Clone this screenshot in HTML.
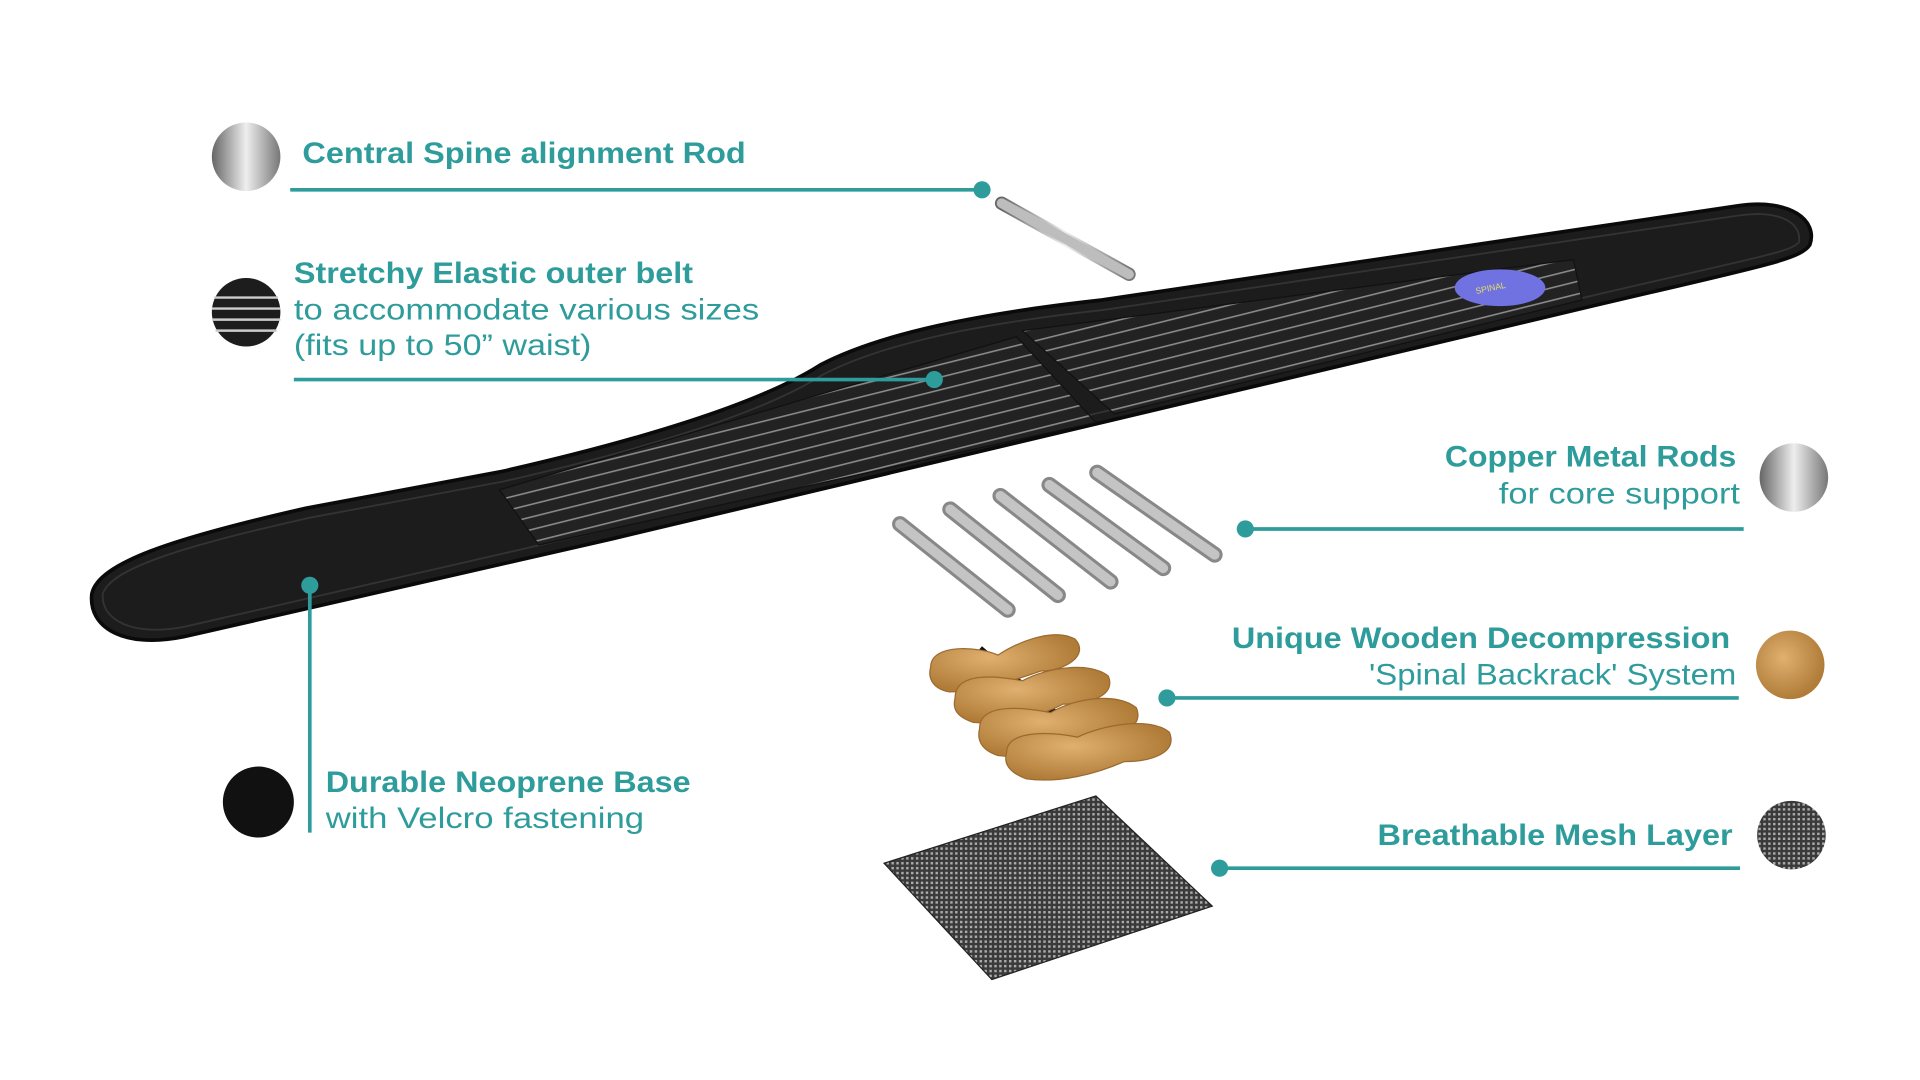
<!DOCTYPE html>
<html><head><meta charset="utf-8"><style>
html,body{margin:0;padding:0;background:#fff;}
svg{display:block}
.t{font-family:"Liberation Sans",sans-serif;fill:#2f9c9c;}
.b{font-weight:bold;font-size:24px;}
.r{font-size:24px;}
</style></head><body>
<svg width="1920" height="1080" viewBox="0 0 1568 882" preserveAspectRatio="none" xmlns="http://www.w3.org/2000/svg">
<defs>
<linearGradient id="metal2" x1="0" x2="1"><stop offset="0" stop-color="#666"/><stop offset="0.5" stop-color="#eee"/><stop offset="1" stop-color="#777"/></linearGradient>
<radialGradient id="wood" cx="40%" cy="40%" r="60%"><stop offset="0" stop-color="#e0b070"/><stop offset="1" stop-color="#b07c38"/></radialGradient>
<pattern id="mesh" width="4" height="4" patternUnits="userSpaceOnUse"><rect width="4" height="4" fill="#3a3a3a"/><rect width="2" height="2" fill="#aaa"/></pattern>
<pattern id="stripes" width="8" height="10" patternUnits="userSpaceOnUse" patternTransform="rotate(-14)"><rect width="8" height="10" fill="#222"/><rect y="4" width="8" height="1.3" fill="#8a8a8a"/></pattern>
</defs>

<path d="M75,485 C80,460 140,440 250,415 L410,385 C520,360 620,330 670,298 C720,272 800,256 900,245 L1420,168 C1462,162 1485,180 1478,200 C1470,212 1440,217 1300,250 L900,345 L500,440 L150,520 C100,530 72,512 75,485 Z" fill="#1c1c1c" stroke="#0a0a0a" stroke-width="3"/>
<path d="M84,485 C90,465 145,447 252,423 L412,393 C522,368 622,338 672,306 C722,280 802,264 902,253 L1420,176 C1455,171 1472,183 1469,198 C1462,206 1435,210 1298,242 L898,337 L498,432 L150,512 C108,520 82,506 84,485 Z" fill="none" stroke="#333" stroke-width="1.5"/>
<polygon points="408,400 660,325 830,275 895,345 440,445" fill="url(#stripes)" stroke="#111"/>
<polygon points="835,270 1285,212 1292,245 910,338" fill="url(#stripes)" stroke="#111"/>
<ellipse cx="1225" cy="235" rx="37" ry="15" fill="#6f72e0"/>
<text x="1205" y="236" font-family="Liberation Sans,sans-serif" font-size="7" fill="#e0e060" transform="rotate(-12 1225 235)">SPINAL</text>

<line x1="818" y1="166" x2="922" y2="224" stroke="url(#metal2)" stroke-width="11" stroke-linecap="round"/>
<line x1="818" y1="166" x2="922" y2="224" stroke="#bdbdbd" stroke-width="8" stroke-linecap="round"/>

<g stroke-linecap="round">
<line x1="735" y1="428" x2="823" y2="498" stroke="#888" stroke-width="13"/>
<line x1="735" y1="428" x2="823" y2="498" stroke="#c4c4c4" stroke-width="8"/>
<line x1="776" y1="416" x2="864" y2="486" stroke="#888" stroke-width="13"/>
<line x1="776" y1="416" x2="864" y2="486" stroke="#c4c4c4" stroke-width="8"/>
<line x1="817" y1="405" x2="907" y2="475" stroke="#888" stroke-width="13"/>
<line x1="817" y1="405" x2="907" y2="475" stroke="#c4c4c4" stroke-width="8"/>
<line x1="857" y1="396" x2="950" y2="464" stroke="#888" stroke-width="13"/>
<line x1="857" y1="396" x2="950" y2="464" stroke="#c4c4c4" stroke-width="8"/>
<line x1="896" y1="386" x2="992" y2="453" stroke="#888" stroke-width="13"/>
<line x1="896" y1="386" x2="992" y2="453" stroke="#c4c4c4" stroke-width="8"/>
</g>

<g fill="url(#wood)" stroke="#9a6a30" stroke-width="1">
<line x1="800" y1="530" x2="905" y2="620" stroke="#111" stroke-width="6"/>
<path d="M760,545 C760,525 800,528 815,535 C830,525 860,512 878,522 C890,535 870,548 850,548 C830,555 800,565 775,565 C760,562 758,552 760,545Z"/>
<path d="M780,570 C780,548 815,552 835,556 C855,545 890,540 905,552 C912,568 890,575 868,575 C850,585 820,592 795,590 C780,585 778,578 780,570Z"/>
<path d="M800,595 C800,573 838,578 858,582 C878,570 912,565 928,578 C935,595 912,602 890,602 C870,612 840,620 815,617 C800,612 798,603 800,595Z"/>
<path d="M822,615 C822,595 860,598 880,602 C900,592 940,585 955,598 C962,615 940,622 918,622 C895,632 865,640 838,636 C822,630 820,622 822,615Z"/>
</g>

<polygon points="722,705 895,650 990,740 810,800" fill="url(#mesh)" stroke="#222"/>

<ellipse cx="201" cy="128" rx="28" ry="28" fill="url(#metal2)"/>
<circle cx="201" cy="255" r="28" fill="#1d1d1d"/>
<g stroke="#ccc" stroke-width="2"><line x1="175" y1="243" x2="227" y2="243"/><line x1="173" y1="252" x2="229" y2="252"/><line x1="173" y1="261" x2="229" y2="261"/><line x1="176" y1="270" x2="226" y2="270"/></g>
<circle cx="211" cy="655" r="29" fill="#111"/>
<ellipse cx="1465" cy="390" rx="28" ry="28" fill="url(#metal2)"/>
<circle cx="1462" cy="543" r="28" fill="url(#wood)"/>
<circle cx="1463" cy="682" r="28" fill="url(#mesh)"/>

<g stroke="#2f9c9c" stroke-width="3" fill="#2f9c9c">
<line x1="237" y1="155" x2="802" y2="155"/><circle cx="802" cy="155" r="7" stroke="none"/>
<line x1="240" y1="310" x2="763" y2="310"/><circle cx="763" cy="310" r="7" stroke="none"/>
<line x1="1017" y1="432" x2="1424" y2="432"/><circle cx="1017" cy="432" r="7" stroke="none"/>
<line x1="953" y1="570" x2="1420" y2="570"/><circle cx="953" cy="570" r="7" stroke="none"/>
<line x1="996" y1="709" x2="1421" y2="709"/><circle cx="996" cy="709" r="7" stroke="none"/>
<line x1="253" y1="478" x2="253" y2="680"/><circle cx="253" cy="478" r="7" stroke="none"/>
</g>

<text class="t b" x="247" y="133" textLength="362" lengthAdjust="spacingAndGlyphs">Central Spine alignment Rod</text>
<text class="t b" x="240" y="231" textLength="326" lengthAdjust="spacingAndGlyphs">Stretchy Elastic outer belt</text>
<text class="t r" x="240" y="261" textLength="380" lengthAdjust="spacingAndGlyphs">to accommodate various sizes</text>
<text class="t r" x="240" y="290" textLength="243" lengthAdjust="spacingAndGlyphs">(fits up to 50” waist)</text>
<text class="t b" x="1180" y="381" textLength="238" lengthAdjust="spacingAndGlyphs">Copper Metal Rods</text>
<text class="t r" x="1224" y="411" textLength="197" lengthAdjust="spacingAndGlyphs">for core support</text>
<text class="t b" x="1006" y="529" textLength="407" lengthAdjust="spacingAndGlyphs">Unique Wooden Decompression</text>
<text class="t r" x="1118" y="559" textLength="300" lengthAdjust="spacingAndGlyphs">'Spinal Backrack' System</text>
<text class="t b" x="1125" y="690" textLength="290" lengthAdjust="spacingAndGlyphs">Breathable Mesh Layer</text>
<text class="t b" x="266" y="647" textLength="298" lengthAdjust="spacingAndGlyphs">Durable Neoprene Base</text>
<text class="t r" x="266" y="676" textLength="260" lengthAdjust="spacingAndGlyphs">with Velcro fastening</text>
</svg>
</body></html>
